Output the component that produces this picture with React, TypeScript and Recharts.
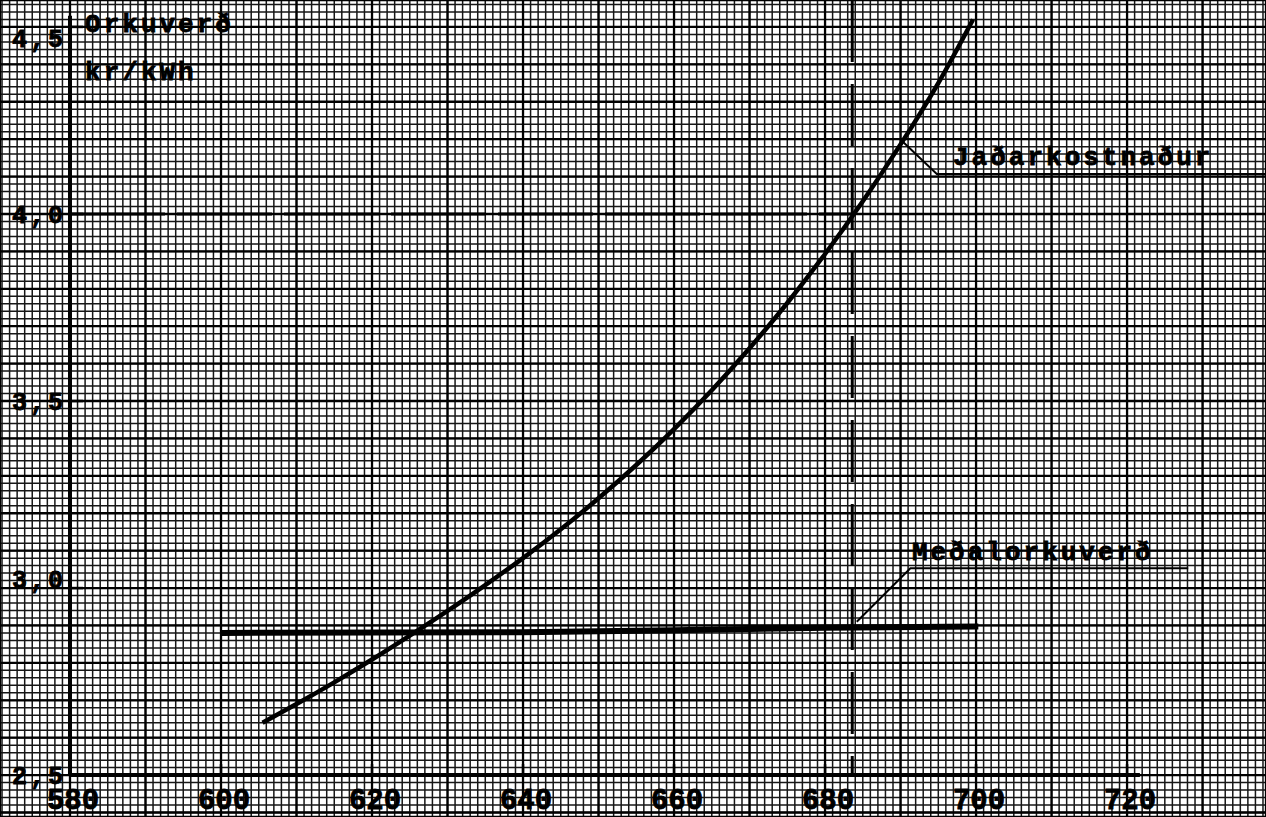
import React from 'react';
import { ComposedChart, XAxis, YAxis, CartesianGrid, Line, Scatter } from 'recharts';

const W = 1266;
const H = 817;
const X_DOMAIN: [number, number] = [570.73, 738.4];
const Y_DOMAIN: [number, number] = [2.388, 4.572];

// axis tick values & labels
const xTickValues = [580, 600, 620, 640, 660, 680, 700, 720];
const xTickLabels = ['580', '600', '620', '640', '660', '680', '700', '720'];
const yTickValues = [2.5, 3.0, 3.5, 4.0, 4.5];
const yTickLabels = ['2,5', '3,0', '3,5', '4,0', '4,5'];

// Jaðarkostnaður (marginal cost curve)
const marginalX = [605.5, 610, 615, 620, 625, 630, 635, 640, 645, 650, 655, 660, 665, 670, 675, 680, 685, 690, 695, 699.6];
const marginalY = [2.64, 2.69, 2.748, 2.809, 2.873, 2.939, 3.008, 3.08, 3.157, 3.24, 3.329, 3.425, 3.529, 3.641, 3.762, 3.893, 4.034, 4.186, 4.35, 4.52];

// Meðalorkuverð (average energy price)
const avgX = [600, 640, 660, 680, 700.3];
const avgY = [2.88, 2.882, 2.887, 2.894, 2.897];

// leader lines for the labels
const leaderJX = [690.2, 694.8, 738.4];
const leaderJY = [4.195, 4.107, 4.107];
const leaderMX = [684.2, 691.3, 728.1];
const leaderMY = [2.91, 3.053, 3.053];

// vertical dashed marker and dashed 4,0 line
const markerX = 683.6;
const dashedLevel = 4.0;

// annotations
const annoText = ['Orkuverð', 'kr/kWh', 'Jaðarkostnaður', 'Meðalorkuverð'];
const annoX = [582.0, 582.0, 696.95, 691.5];
const annoY = [4.487, 4.358, 4.131, 3.075];

// graph-paper grid
const fineX: number[] = [];
for (let v = 571; v <= 738; v++) fineX.push(v);
const fineY: number[] = [];
for (let k = 120; k <= 228; k++) fineY.push(k / 50);
const majorX: number[] = [];
for (let v = 580; v <= 730; v += 10) majorX.push(v);
const majorY: number[] = [];
for (let k = 24; k <= 45; k++) majorY.push(k / 10);

const zip = (xs: number[], ys: number[]) => xs.map((x, i) => ({ x, y: ys[i] }));

const marginalData = zip(marginalX, marginalY);
const avgData = zip(avgX, avgY);
const leaderJData = zip(leaderJX, leaderJY);
const leaderMData = zip(leaderMX, leaderMY);
const markerData = [{ x: markerX, y: Y_DOMAIN[1] }, { x: markerX, y: 2.5 }];
const levelData = [{ x: 580, y: dashedLevel }, { x: markerX, y: dashedLevel }];
const xAxisLine = [{ x: 580, y: 2.5 }, { x: 721.7, y: 2.5 }];
const yAxisLine = [{ x: 580, y: 2.5 }, { x: 580, y: 4.53 }];
const xLabelData = xTickValues.map((x, i) => ({ x, y: 2.5, label: xTickLabels[i] }));
const yLabelData = yTickValues.map((y, i) => ({ x: 580, y, label: yTickLabels[i] }));
const annoData = annoText.map((t, i) => ({ x: annoX[i], y: annoY[i], label: t }));

const FONT = '"Liberation Mono", "DejaVu Sans Mono", monospace';

const XLabelShape = (p: any) => (
  <g>
    <line x1={p.cx} y1={p.cy} x2={p.cx} y2={p.cy - 11} stroke="#000" strokeWidth={2.5} />
    <text x={p.cx + 3} y={p.cy + 34} textAnchor="middle" fontFamily={FONT} fontWeight="bold" fontSize={29} stroke="#000" strokeWidth={0.8} fill="#000">
      {p.payload.label}
    </text>
  </g>
);

const YLabelShape = (p: any) => {
  const dy = p.payload.label === '4,5' ? 20 : p.payload.label === '3,0' ? 0 : 9;
  return (
    <g>
      <line x1={p.cx} y1={p.cy} x2={p.cx + 13} y2={p.cy} stroke="#000" strokeWidth={2.5} />
      <text x={p.cx - 4} y={p.cy + dy} textAnchor="end" fontFamily={FONT} fontWeight="bold" fontSize={25} letterSpacing={3} stroke="#000" strokeWidth={0.8} fill="#000">
        {p.payload.label}
      </text>
    </g>
  );
};

const AnnoShape = (p: any) => (
  <text x={p.cx} y={p.cy} textAnchor="start" fontFamily={FONT} fontWeight="bold" fontSize={26} letterSpacing={3} stroke="#000" strokeWidth={0.8} fill="#000">
    {p.payload.label}
  </text>
);

export default function App() {
  return (
    <div style={{ position: 'absolute', left: 0, top: 0, width: W, height: H, background: '#fff' }}>
      <ComposedChart width={W} height={H} margin={{ top: 0, right: 0, bottom: 0, left: 0 }}>
        <XAxis xAxisId="f" type="number" dataKey="x" domain={X_DOMAIN} ticks={fineX} interval={0} allowDataOverflow hide />
        <YAxis yAxisId="f" type="number" dataKey="y" domain={Y_DOMAIN} ticks={fineY} interval={0} allowDataOverflow hide />
        <XAxis xAxisId="m" type="number" dataKey="x" domain={X_DOMAIN} ticks={majorX} interval={0} allowDataOverflow hide />
        <YAxis yAxisId="m" type="number" dataKey="y" domain={Y_DOMAIN} ticks={majorY} interval={0} allowDataOverflow hide />

        <CartesianGrid xAxisId="f" yAxisId="f" stroke="#161616" strokeWidth={1.5} />
        <CartesianGrid xAxisId="m" yAxisId="m" stroke="#000" strokeWidth={2.3} />

        <Line xAxisId="f" yAxisId="f" data={levelData} dataKey="y" type="linear" dot={false} stroke="#000" strokeWidth={3} strokeDasharray="95 12" isAnimationActive={false} />
        <Line xAxisId="f" yAxisId="f" data={markerData} dataKey="y" type="linear" dot={false} stroke="#000" strokeWidth={3} strokeDasharray="62 22" isAnimationActive={false} />
        <Line xAxisId="f" yAxisId="f" data={xAxisLine} dataKey="y" type="linear" dot={false} stroke="#000" strokeWidth={4} isAnimationActive={false} />
        <Line xAxisId="f" yAxisId="f" data={yAxisLine} dataKey="y" type="linear" dot={false} stroke="#000" strokeWidth={4} isAnimationActive={false} />
        <Line xAxisId="f" yAxisId="f" data={avgData} dataKey="y" type="linear" dot={false} stroke="#000" strokeWidth={6} isAnimationActive={false} />
        <Line xAxisId="f" yAxisId="f" data={marginalData} dataKey="y" type="natural" dot={false} stroke="#000" strokeWidth={4.5} isAnimationActive={false} />
        <Line xAxisId="f" yAxisId="f" data={leaderJData} dataKey="y" type="linear" dot={false} stroke="#000" strokeWidth={2} isAnimationActive={false} />
        <Line xAxisId="f" yAxisId="f" data={leaderMData} dataKey="y" type="linear" dot={false} stroke="#000" strokeWidth={2} isAnimationActive={false} />

        <Scatter xAxisId="f" yAxisId="f" data={xLabelData} shape={XLabelShape} isAnimationActive={false} />
        <Scatter xAxisId="f" yAxisId="f" data={yLabelData} shape={YLabelShape} isAnimationActive={false} />
        <Scatter xAxisId="f" yAxisId="f" data={annoData} shape={AnnoShape} isAnimationActive={false} />
      </ComposedChart>
    </div>
  );
}
